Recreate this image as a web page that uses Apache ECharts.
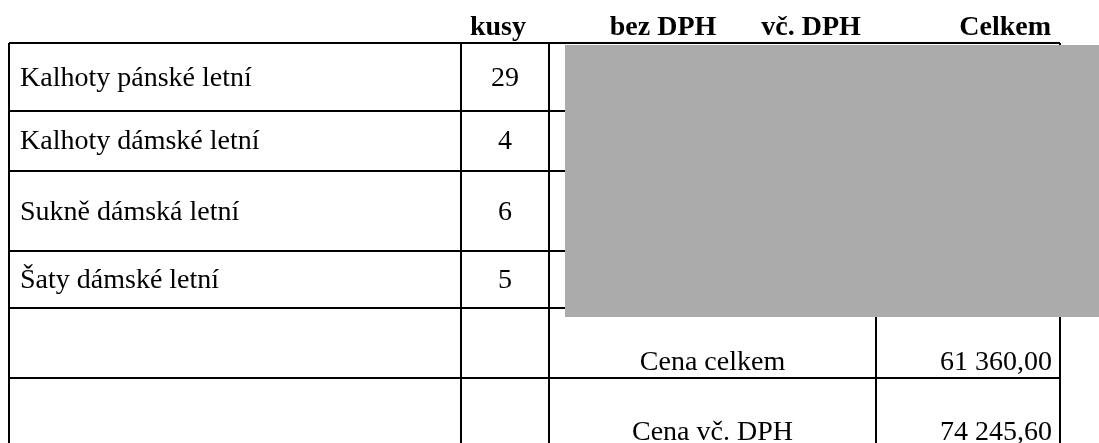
<!DOCTYPE html>
<html>
<head>
<meta charset="utf-8">
<script src="https://cdn.jsdelivr.net/npm/echarts@6/dist/echarts.min.js"></script>
<style>
  html, body { margin: 0; padding: 0; background: #fff; }
  #chart { width: 1099px; height: 443px; }
</style>
</head>
<body>
<div id="chart"></div>
<script>
// data
var headers = ['kusy', 'bez DPH', 'vč. DPH', 'Celkem'];
var items = ['Kalhoty pánské letní', 'Kalhoty dámské letní', 'Sukně dámská letní', 'Šaty dámské letní'];
var quantities = [29, 4, 6, 5];
var summaryLabels = ['Cena celkem', 'Cena vč. DPH'];
var summaryValues = ['61 360,00', '74 245,60'];

// layout (pixel space of the hidden axes)
var colX = [9, 461, 549, 729, 876, 1060];
var rowY = [43, 111, 171, 251, 308, 378, 460];
var headerY = 28;
var itemTextY = [79, 142, 213, 281];
var summaryTextY = [363, 433];
var headerX = [498, 663, 811, 1051];
var headerAlign = ['center', 'center', 'center', 'right'];
var hiddenBox = [565, 45, 1099, 317]; // pokrytá oblast s cenami

var FONT = '"Liberation Serif", "Times New Roman", serif';
var SIZE = 28;

// čáry tabulky
var lines = [];
for (var i = 0; i <= 5; i++) lines.push([colX[0], rowY[i], colX[5], rowY[i]]);
lines.push([colX[0], rowY[0], colX[0], rowY[6]]);
lines.push([colX[1], rowY[0], colX[1], rowY[6]]);
lines.push([colX[2], rowY[0], colX[2], rowY[6]]);
lines.push([colX[4], rowY[4], colX[4], rowY[6]]);
lines.push([colX[5], rowY[0], colX[5], rowY[6]]);

// texty
var cells = [];
headers.forEach(function (h, i) {
    cells.push({ value: [headerX[i], headerY], text: h, align: headerAlign[i], bold: true });
});
items.forEach(function (name, i) {
    cells.push({ value: [20, itemTextY[i]], text: name, align: 'left' });
    cells.push({ value: [(colX[1] + colX[2]) / 2, itemTextY[i]], text: String(quantities[i]), align: 'center' });
});
summaryLabels.forEach(function (lab, i) {
    cells.push({ value: [(colX[2] + colX[4]) / 2, summaryTextY[i]], text: lab, align: 'center' });
    cells.push({ value: [1052, summaryTextY[i]], text: summaryValues[i], align: 'right' });
});

var chart = echarts.init(document.getElementById('chart'));

var option = {
    animation: false,
    grid: { left: 0, right: 0, top: 0, bottom: 0 },
    xAxis: { type: 'value', min: 0, max: 1099, show: false },
    yAxis: { type: 'value', min: 0, max: 443, inverse: true, show: false },
    series: [
        {
            type: 'custom',
            data: lines,
            clip: false,
            renderItem: function (params, api) {
                var p1 = api.coord([api.value(0), api.value(1)]);
                var p2 = api.coord([api.value(2), api.value(3)]);
                return {
                    type: 'line',
                    shape: { x1: p1[0], y1: p1[1], x2: p2[0], y2: p2[1] },
                    style: { stroke: '#000', lineWidth: 2 }
                };
            }
        },
        {
            type: 'custom',
            data: [hiddenBox],
            renderItem: function (params, api) {
                var p1 = api.coord([api.value(0), api.value(1)]);
                var p2 = api.coord([api.value(2), api.value(3)]);
                return {
                    type: 'rect',
                    shape: { x: p1[0], y: p1[1], width: p2[0] - p1[0], height: p2[1] - p1[1] },
                    style: { fill: '#ababab' }
                };
            }
        },
        {
            type: 'custom',
            data: cells,
            clip: false,
            renderItem: function (params, api) {
                var c = cells[params.dataIndex];
                var p = api.coord([api.value(0), api.value(1)]);
                return {
                    type: 'text',
                    style: {
                        x: p[0],
                        y: p[1],
                        text: c.text,
                        fill: '#000',
                        font: (c.bold ? 'bold ' : '') + SIZE + 'px ' + FONT,
                        align: c.align,
                        verticalAlign: 'middle'
                    }
                };
            }
        }
    ]
};

chart.setOption(option);
</script>
</body>
</html>
